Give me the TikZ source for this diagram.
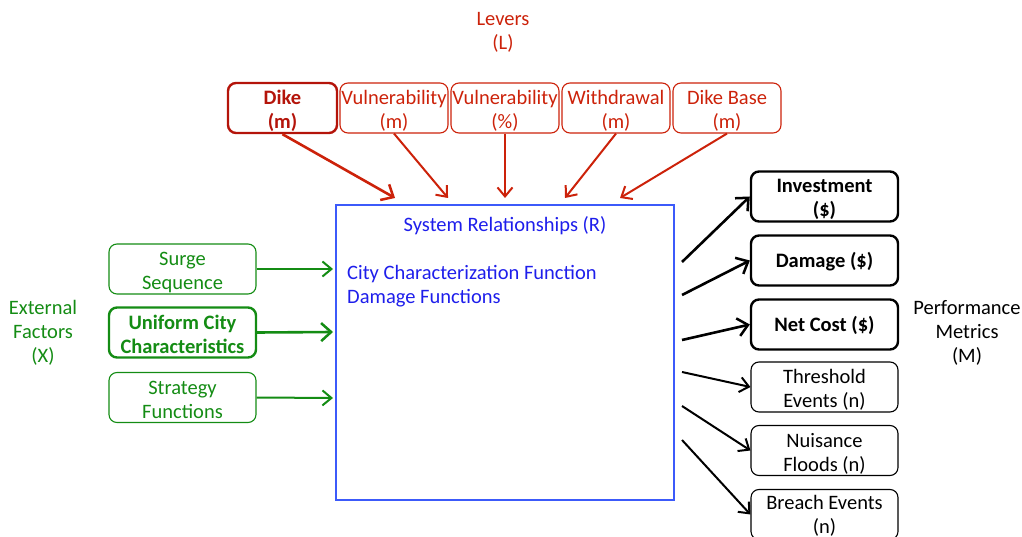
\documentclass[tikz,border=0pt]{standalone}
\usepackage{fontspec}
\setmainfont{Carlito}
\usetikzlibrary{arrows.meta}
\definecolor{lred}{RGB}{204,34,10}
\definecolor{dred}{RGB}{180,20,10}
\definecolor{lgreen}{RGB}{20,140,20}
\definecolor{lblue}{RGB}{30,30,235}
\definecolor{bblue}{RGB}{60,90,250}
\newcommand\bx[2][-3.8pt]{\raisebox{#1}[\height][\depth]{\begin{tabular}{@{}c@{}}#2\end{tabular}}}
\begin{document}
\begin{tikzpicture}[x=1pt,y=-1pt,
  every node/.style={font=\fontsize{20.5}{24}\selectfont, align=center, inner sep=0pt},
  bf/.style={font=\fontsize{20.5}{24}\selectfont\bfseries},
  box/.style={draw, rounded corners=8pt, minimum height=50pt, line width=1.1pt},
  topbox/.style={box, draw=lred, text=lred, minimum width=108pt},
  leftbox/.style={box, draw=lgreen, text=lgreen, minimum width=147pt},
  rightbox/.style={box, draw=black, text=black, minimum width=147pt},
  thickbox/.style={line width=2.4pt},
  arr/.style={-{Straight Barb[length=10pt,width=18pt,line width=2.5pt]}, line width=2.6pt},
  arrthin/.style={-{Straight Barb[length=9pt,width=15pt,line width=2pt]}, line width=2pt}
]
\useasboundingbox (0,0) rectangle (1022,537);
\clip (0,0) rectangle (1022,537);
% labels
\node[text=lred] (lev) at (503,32) {Levers\\(L)};
\node[text=lgreen] (ext) at (43,333) {External\\Factors\\(X)};
\node[text=black] (perf) at (967,333) {Performance\\Metrics\\(M)};
% main box
\node[draw=bblue, line width=1.1pt, minimum width=338pt, minimum height=295pt] (main) at (505,352.5) {};
\node[text=lblue] (title) at (505,226) {System Relationships (R)};
\node[text=lblue, anchor=west, align=left] (funcs) at (347,286) {City Characterization Function\\Damage Functions};
% top boxes
\node[topbox, thickbox, minimum width=109pt, draw=dred, text=dred, bf] (dike) at (282.5,108) {\bx{Dike\\(m)}};
\node[topbox] (vm) at (394,108) {\bx{Vulnerability\\(m)}};
\node[topbox] (vp) at (505,108) {\bx{Vulnerability\\(\%)}};
\node[topbox] (wd) at (616,108) {\bx{Withdrawal\\(m)}};
\node[topbox] (db) at (727,108) {\bx{Dike Base\\(m)}};
\coordinate (t1) at (395,198);
\coordinate (t2) at (448,198);
\coordinate (t3) at (505,198);
\coordinate (t4) at (565,198);
\coordinate (t5) at (620,198);
\draw[arr, lred] (dike.south) -- (t1);
\draw[arrthin, lred] (vm.south) -- (t2);
\draw[arrthin, lred] (vp.south) -- (t3);
\draw[arrthin, lred] (wd.south) -- (t4);
\draw[arrthin, lred] (db.south) -- (t5);
% left boxes
\node[leftbox] (surge) at (182.5,269) {\bx{Surge\\Sequence}};
\node[leftbox, thickbox, bf] (ucc) at (182.5,332.5) {\bx{Uniform City\\Characteristics}};
\node[leftbox] (strat) at (182.5,397.5) {\bx{Strategy\\Functions}};
\coordinate (l1) at (333,269);
\coordinate (l2) at (333,332);
\coordinate (l3) at (333,398);
\draw[arrthin, lgreen] (surge.east) -- (l1);
\draw[arr, lgreen] (ucc.east) -- (l2);
\draw[arrthin, lgreen] (strat.east) -- (l3);
% right boxes
\node[rightbox, thickbox, bf] (inv) at (824.5,196.5) {\bx[-3pt]{Investment\\(\$)}};
\node[rightbox, thickbox, bf] (dam) at (824.5,260.5) {\bx[-2.5pt]{Damage (\$)}};
\node[rightbox, thickbox, bf] (net) at (824.5,324.5) {\bx[-2pt]{Net Cost (\$)}};
\node[rightbox] (thr) at (824.5,387) {\bx{Threshold\\Events (n)}};
\node[rightbox] (nui) at (824.5,450.5) {\bx{Nuisance\\Floods (n)}};
\node[rightbox] (bre) at (824.5,514.5) {\bx[-2pt]{Breach Events\\(n)}};
\coordinate (r1) at (682,262);
\coordinate (r2) at (682,295);
\coordinate (r3) at (682,340);
\coordinate (r4) at (682,372);
\coordinate (r5) at (682,406);
\coordinate (r6) at (682,440);
\draw[arr] (r1) -- (inv.west);
\draw[arr] (r2) -- (dam.west);
\draw[arr] (r3) -- (net.west);
\draw[arrthin] (r4) -- (thr.west);
\draw[arrthin] (r5) -- (nui.west);
\draw[arrthin] (r6) -- (bre.west);
\end{tikzpicture}
\end{document}
